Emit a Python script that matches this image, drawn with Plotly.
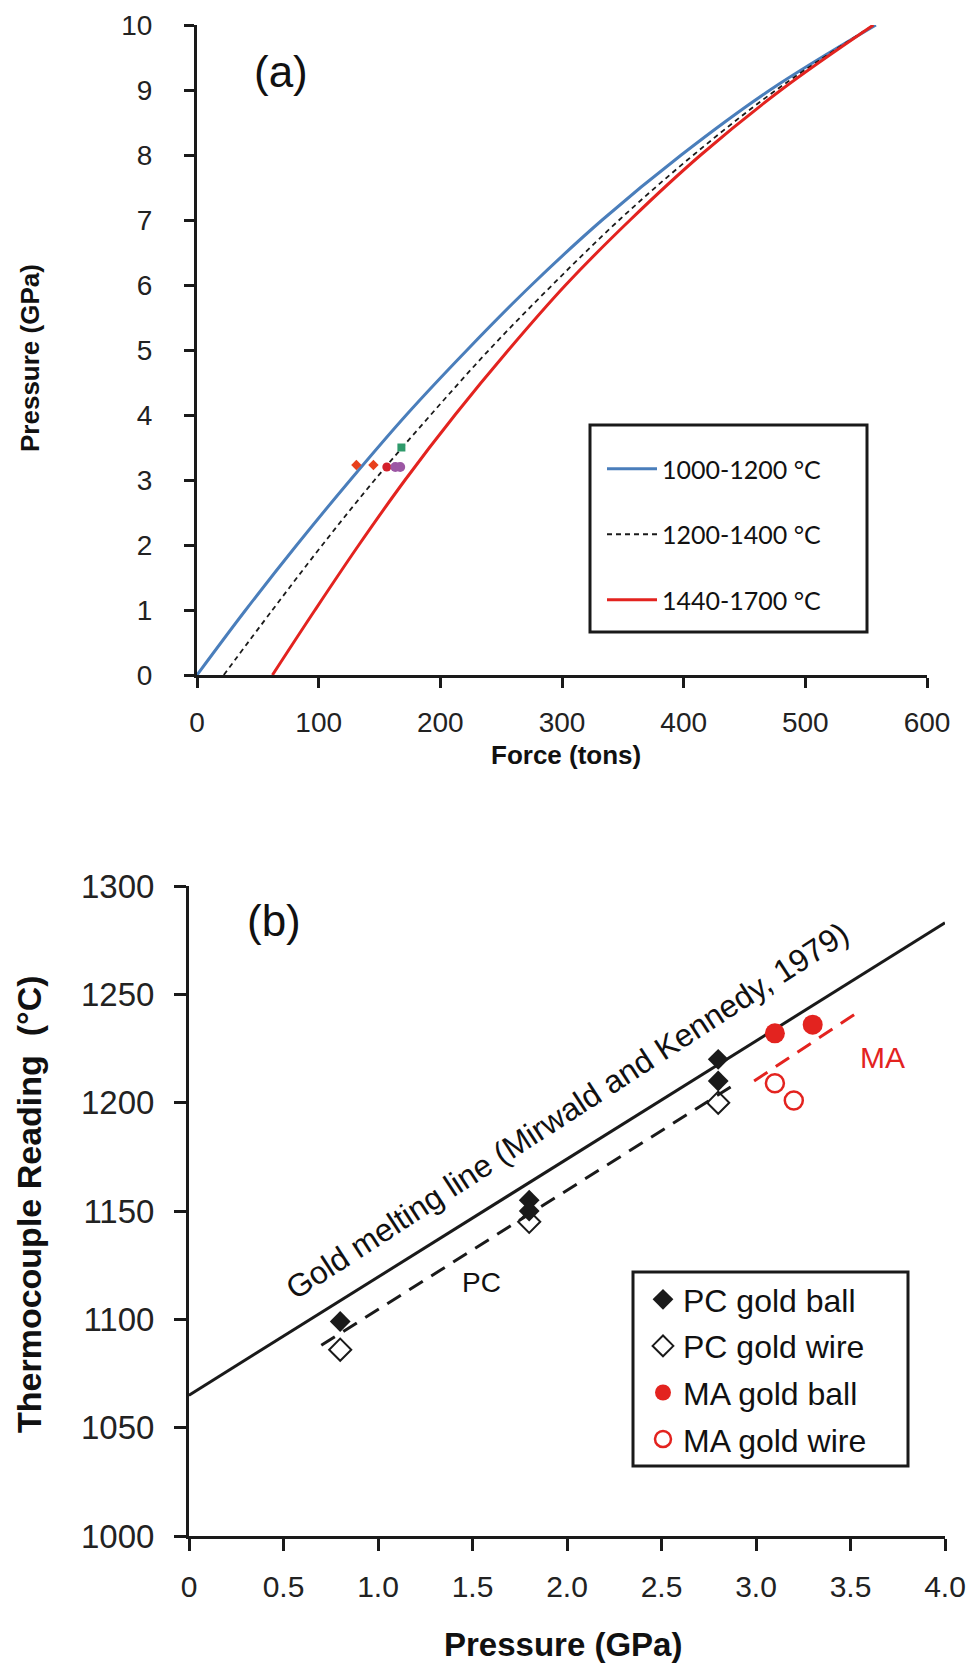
import plotly.graph_objects as go

W, H = 968, 1664

# ---------------- Panel (a): press calibration curves ----------------
pressure_levels = [0, 1, 2, 3, 4, 5, 6, 7, 8, 9, 10]          # GPa
force_1000_1200 = [0, 40, 82, 126, 172, 222, 275, 333, 398, 471, 558]   # tons
force_1200_1400 = [22, 62, 103, 146, 192, 240, 292, 347, 408, 476, 556]
force_1440_1700 = [62, 97, 133, 171, 212, 256, 303, 356, 414, 480, 556]

# calibration runs shown on panel (a)
red_diamond_force = [131, 145]
red_diamond_p = [3.23, 3.23]
red_circle_force = [156]
red_circle_p = [3.2]
purple_force = [163, 167]
purple_p = [3.2, 3.2]
green_force = [168]
green_p = [3.5]

# ---------------- Panel (b): gold melting calibration ----------------
melt_p = [0.0, 4.0]
melt_t = [1065, 1283]
pc_fit_p = [0.70, 2.88]
pc_fit_t = [1088, 1208]
ma_fit_p = [2.99, 3.56]
ma_fit_t = [1210, 1243]

pc_ball_p = [0.8, 1.8, 1.8, 2.8, 2.8]
pc_ball_t = [1099, 1155, 1150, 1220, 1210]
pc_wire_p = [0.8, 1.8, 2.8]
pc_wire_t = [1086, 1145, 1200]
ma_ball_p = [3.1, 3.3]
ma_ball_t = [1232, 1236]
ma_wire_p = [3.1, 3.2]
ma_wire_t = [1209, 1201]

x_ticks_b = [0, 0.5, 1.0, 1.5, 2.0, 2.5, 3.0, 3.5, 4.0]
x_ticktext_b = ["0", "0.5", "1.0", "1.5", "2.0", "2.5", "3.0", "3.5", "4.0"]

BLUE = "#4a7ebb"
RED = "#e3231f"
INK = "#1a1a1a"
SANS = "Liberation Sans, Arial, sans-serif"


def px(x):
    return x / W


def py(y):
    return 1 - y / H


fig = go.Figure()

# curves (a)
fig.add_trace(go.Scatter(x=force_1000_1200, y=pressure_levels, mode="lines",
                         line=dict(color=BLUE, width=3, shape="spline"),
                         name="1000-1200 °C", legend="legend", legendgroup="a1",
                         xaxis="x", yaxis="y"))
fig.add_trace(go.Scatter(x=force_1200_1400, y=pressure_levels, mode="lines",
                         line=dict(color=INK, width=1.8, dash="5px,4px", shape="spline"),
                         name="1200-1400 °C", legend="legend", legendgroup="a2",
                         xaxis="x", yaxis="y"))
fig.add_trace(go.Scatter(x=force_1440_1700, y=pressure_levels, mode="lines",
                         line=dict(color=RED, width=3, shape="spline"),
                         name="1440-1700 °C", legend="legend", legendgroup="a3",
                         xaxis="x", yaxis="y"))

# runs (a)
fig.add_trace(go.Scatter(x=red_diamond_force, y=red_diamond_p, mode="markers",
                         marker=dict(symbol="diamond", size=8, color="#e8401c"),
                         showlegend=False, xaxis="x", yaxis="y"))
fig.add_trace(go.Scatter(x=red_circle_force, y=red_circle_p, mode="markers",
                         marker=dict(symbol="circle", size=9, color="#d4202a"),
                         showlegend=False, xaxis="x", yaxis="y"))
fig.add_trace(go.Scatter(x=purple_force, y=purple_p, mode="markers",
                         marker=dict(symbol="circle", size=10, color="#9c57a4"),
                         showlegend=False, xaxis="x", yaxis="y"))
fig.add_trace(go.Scatter(x=green_force, y=green_p, mode="markers",
                         marker=dict(symbol="square", size=8, color="#2f9a6b"),
                         showlegend=False, xaxis="x", yaxis="y"))

# lines (b)
fig.add_trace(go.Scatter(x=melt_p, y=melt_t, mode="lines",
                         line=dict(color=INK, width=3), showlegend=False,
                         xaxis="x2", yaxis="y2"))
fig.add_trace(go.Scatter(x=pc_fit_p, y=pc_fit_t, mode="lines",
                         line=dict(color=INK, width=3, dash="16px,10px"), showlegend=False,
                         xaxis="x2", yaxis="y2"))
fig.add_trace(go.Scatter(x=ma_fit_p, y=ma_fit_t, mode="lines",
                         line=dict(color=RED, width=3, dash="16px,10px"), showlegend=False,
                         xaxis="x2", yaxis="y2"))

# measurements (b)
fig.add_trace(go.Scatter(x=pc_ball_p, y=pc_ball_t, mode="markers", name="PC gold ball",
                         marker=dict(symbol="diamond", size=16, color=INK),
                         legend="legend2", legendgroup="b1", xaxis="x2", yaxis="y2"))
fig.add_trace(go.Scatter(x=pc_wire_p, y=pc_wire_t, mode="markers", name="PC gold wire",
                         marker=dict(symbol="diamond-open", size=17, color=INK,
                                     line=dict(width=2)),
                         legend="legend2", legendgroup="b2", xaxis="x2", yaxis="y2"))
fig.add_trace(go.Scatter(x=ma_ball_p, y=ma_ball_t, mode="markers", name="MA gold ball",
                         marker=dict(symbol="circle", size=20, color=RED),
                         legend="legend2", legendgroup="b3", xaxis="x2", yaxis="y2"))
fig.add_trace(go.Scatter(x=ma_wire_p, y=ma_wire_t, mode="markers", name="MA gold wire",
                         marker=dict(symbol="circle-open", size=18, color=RED,
                                     line=dict(width=2.5)),
                         legend="legend2", legendgroup="b4", xaxis="x2", yaxis="y2"))

axis_common = dict(showline=True, linewidth=3, linecolor=INK, ticks="outside",
                   tickwidth=3, tickcolor=INK, showgrid=False,
                   zeroline=False, automargin=False)

fig.update_layout(
    width=W, height=H,
    margin=dict(l=0, r=0, t=0, b=0),
    paper_bgcolor="white", plot_bgcolor="white",
    xaxis=dict(domain=[px(197), px(927)], range=[0, 600], anchor="y",
               tickvals=[0, 100, 200, 300, 400, 500, 600], ticklen=10,
               ticklabelstandoff=10,
               tickfont=dict(family=SANS, size=28, color="#222"), **axis_common),
    yaxis=dict(domain=[py(675), py(25)], range=[0, 10], anchor="x",
               tickvals=pressure_levels, ticklen=10, ticklabelstandoff=26,
               tickfont=dict(family=SANS, size=28, color="#222"), **axis_common),
    xaxis2=dict(domain=[px(189), px(945)], range=[0, 4], anchor="y2",
                tickvals=x_ticks_b, ticktext=x_ticktext_b, ticklen=12,
                ticklabelstandoff=10,
                tickfont=dict(family=SANS, size=30, color="#222"), **axis_common),
    yaxis2=dict(domain=[py(1536), py(886)], range=[1000, 1300], anchor="x2",
                tickvals=[1000, 1050, 1100, 1150, 1200, 1250, 1300], ticklen=12,
                ticklabelstandoff=13,
                tickfont=dict(family=SANS, size=33, color="#222"), **axis_common),
    legend=dict(x=px(602), y=py(446), xanchor="left", yanchor="top",
                bgcolor="rgba(0,0,0,0)", borderwidth=0, tracegroupgap=30,
                itemwidth=50,
                font=dict(family="Lato, Open Sans, sans-serif", size=25, color="#111")),
    legend2=dict(x=px(643), y=py(1272), xanchor="left", yanchor="top",
                 bgcolor="rgba(0,0,0,0)", borderwidth=0, tracegroupgap=2,
                 font=dict(family=SANS, size=32, color="#111")),
    showlegend=True,
)

# legend frames
fig.add_shape(type="rect", xref="paper", yref="paper",
              x0=px(590), x1=px(867), y0=py(632), y1=py(425),
              line=dict(color=INK, width=3), fillcolor="rgba(0,0,0,0)")
fig.add_shape(type="rect", xref="paper", yref="paper",
              x0=px(633), x1=px(908), y0=py(1466), y1=py(1272),
              line=dict(color=INK, width=3), fillcolor="rgba(0,0,0,0)")

annotations = [
    dict(text="(a)", x=px(281), y=py(72), xref="paper", yref="paper",
         font=dict(family=SANS, size=44, color="#111")),
    dict(text="(b)", x=px(274), y=py(921), xref="paper", yref="paper",
         font=dict(family=SANS, size=44, color="#111")),
    dict(text="<b>Pressure (GPa)</b>", x=px(30), y=py(358), xref="paper", yref="paper",
         textangle=-90, font=dict(family=SANS, size=26, color="#111")),
    dict(text="<b>Force (tons)</b>", x=px(566), y=py(755), xref="paper", yref="paper",
         font=dict(family=SANS, size=26, color="#111")),
    dict(text="<b>Thermocouple Reading  (°C)</b>", x=px(29), y=py(1204),
         xref="paper", yref="paper", textangle=-90,
         font=dict(family=SANS, size=34, color="#111")),
    dict(text="<b>Pressure (GPa)</b>", x=px(563), y=py(1644), xref="paper", yref="paper",
         font=dict(family=SANS, size=33, color="#111")),
    dict(text="Gold melting line (Mirwald and Kennedy, 1979)", x=2.0, y=1196,
         xref="x2", yref="y2", textangle=-33,
         font=dict(family=SANS, size=32, color="#111")),
    dict(text="PC", x=1.55, y=1117, xref="x2", yref="y2",
         font=dict(family=SANS, size=28, color="#111")),
    dict(text="MA", x=3.54, y=1221, xref="x2", yref="y2", xanchor="left",
         font=dict(family=SANS, size=30, color=RED)),
]
for a in annotations:
    a.setdefault("showarrow", False)
    a.setdefault("xanchor", "center")
    a.setdefault("yanchor", "middle")
    fig.add_annotation(**a)

fig.write_html("out.html")
